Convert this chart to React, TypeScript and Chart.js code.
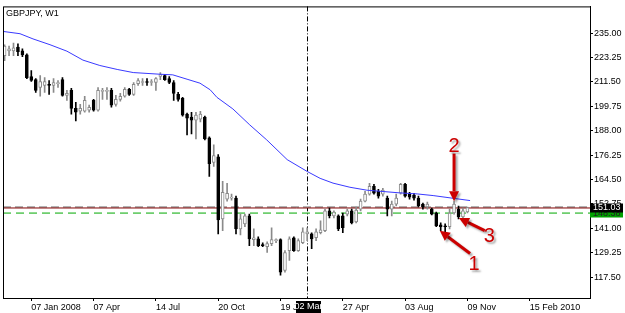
import React, { useEffect, useRef } from 'react';
import { Chart, registerables } from 'chart.js';

Chart.register(...registerables);

// Weekly GBPJPY candles (one per bar index)
const opens = [
  224.1, 226.4, 226.4, 228.3, 226.4, 224.5, 214.1, 212.6, 208.8, 209.8,
  210.3, 209.8, 210.7, 212.6, 205.0, 207.4, 198.8, 197.4, 197.4, 197.9,
  202.6, 197.9, 206.9, 206.9, 207.4, 200.7, 203.1, 204.6, 207.9, 205.5,
  210.7, 211.2, 211.7, 211.2, 211.2, 214.1, 214.5, 213.1, 211.2, 205.5,
  203.6, 196.0, 194.6, 193.1, 193.6, 194.6, 184.6, 172.7, 175.5, 145.6,
  155.1, 155.6, 155.6, 140.8, 143.2, 147.0, 135.6, 136.0, 133.2, 132.2,
  133.7, 135.1, 135.6, 120.8, 130.3, 136.5, 130.3, 134.1, 138.4, 138.4,
  136.5, 138.9, 139.9, 149.4, 147.0, 147.0, 147.0, 147.9, 149.4, 144.1,
  150.3, 154.1, 157.5, 161.3, 158.9, 157.5, 155.6, 150.3, 152.7, 157.9,
  162.2, 157.5, 157.0, 155.6, 152.7, 151.3, 150.3, 148.4, 142.7, 142.2,
  141.8, 148.4, 150.3, 146.5, 148.9,
];
const highs = [
  229.3, 228.8, 230.2, 229.8, 227.4, 225.0, 216.9, 213.1, 214.5, 213.6,
  212.2, 213.1, 212.2, 213.6, 207.4, 208.4, 201.7, 200.7, 204.6, 200.3,
  203.1, 208.8, 208.4, 208.8, 208.4, 205.0, 206.0, 208.8, 208.4, 211.2,
  213.1, 213.1, 213.1, 212.6, 213.6, 216.0, 215.0, 214.1, 212.2, 206.5,
  204.1, 196.5, 196.9, 196.9, 197.4, 195.0, 185.1, 181.2, 176.5, 163.6,
  162.7, 157.5, 156.5, 147.9, 147.9, 147.9, 140.8, 137.0, 134.1, 134.6,
  141.3, 136.0, 136.0, 130.3, 137.0, 137.0, 136.0, 141.3, 141.3, 138.9,
  140.8, 144.6, 150.3, 150.8, 149.4, 147.5, 148.4, 150.3, 150.3, 151.3,
  155.1, 158.9, 162.7, 162.2, 159.8, 160.3, 156.5, 154.1, 157.5, 162.7,
  162.7, 158.4, 157.9, 156.5, 153.2, 153.7, 150.8, 148.9, 143.7, 143.2,
  150.3, 154.1, 151.8, 150.8, 151.3,
];
const lows = [
  221.7, 224.1, 224.1, 224.1, 223.6, 213.1, 211.7, 206.5, 204.6, 206.5,
  205.5, 206.5, 208.8, 204.6, 202.6, 196.0, 192.7, 196.0, 196.9, 196.9,
  197.4, 197.4, 203.1, 203.1, 199.3, 199.8, 202.2, 204.1, 205.0, 205.0,
  209.8, 209.8, 209.8, 209.8, 207.4, 212.6, 212.2, 210.7, 202.6, 202.2,
  195.0, 186.0, 186.5, 184.1, 192.2, 183.6, 166.0, 170.8, 138.4, 139.9,
  154.1, 154.6, 138.4, 137.9, 141.8, 132.7, 132.7, 132.2, 132.2, 129.4,
  132.7, 134.1, 118.5, 119.9, 125.6, 129.9, 129.9, 133.7, 135.1, 131.3,
  135.1, 138.4, 139.4, 146.0, 146.0, 139.9, 138.9, 147.0, 143.2, 143.7,
  149.4, 153.7, 157.0, 157.5, 155.6, 156.5, 147.0, 147.0, 151.8, 157.5,
  156.0, 155.1, 154.6, 151.3, 150.3, 150.3, 147.5, 141.8, 139.9, 139.4,
  140.8, 147.9, 145.6, 145.6, 148.4,
];
const closes = [
  228.8, 227.4, 227.9, 226.0, 224.5, 213.6, 212.2, 207.4, 211.7, 211.7,
  209.8, 211.2, 211.2, 205.0, 206.0, 198.8, 196.9, 198.8, 202.6, 199.3,
  197.9, 207.4, 207.4, 207.4, 200.3, 203.1, 204.6, 207.9, 205.5, 210.3,
  212.2, 211.7, 211.2, 211.7, 213.1, 215.0, 212.6, 211.2, 206.0, 203.1,
  195.5, 194.1, 193.1, 195.5, 196.0, 184.1, 172.2, 176.0, 145.1, 158.4,
  157.9, 156.0, 140.8, 145.6, 147.0, 136.0, 136.5, 132.7, 132.7, 133.7,
  135.6, 135.6, 119.9, 129.4, 136.0, 130.3, 135.1, 139.4, 139.4, 136.0,
  139.4, 140.3, 149.4, 147.0, 148.9, 140.8, 141.3, 149.4, 143.7, 149.8,
  154.1, 157.5, 161.3, 157.9, 156.5, 159.4, 150.3, 152.7, 155.6, 162.2,
  156.5, 156.0, 155.6, 151.8, 151.3, 152.7, 147.9, 142.2, 141.8, 141.8,
  148.4, 152.7, 146.5, 149.4, 151.03,
];

// Moving average (read at bar positions)
const maIdx = [
  -0.36, 3.46, 6.38, 10.2, 14.0, 17.6, 21.4, 25.3, 28.9, 34.9, 37.8, 41.0,
  43.9, 46.2, 47.7, 51.3, 55.1, 58.9, 63.5, 68.0, 70.9, 73.8, 77.6, 81.4,
  88.8, 92.7, 96.3, 100.1, 104.6,
];
const maVals = [
  235.8, 234.7, 232.2, 229.4, 226.3, 222.0, 219.4, 217.5, 216.0, 215.2, 214.9, 212.8,
  210.9, 207.7, 204.1, 198.5, 190.8, 183.6, 174.1, 168.4, 165.1, 162.8, 160.8, 159.4,
  158.1, 157.6, 156.8, 155.7, 154.4,
];

const xTickIdx = [6, 20, 34, 48, 62, 76, 90, 104, 118];
const xTickLabels = ['07 Jan 2008', '07 Apr', '14 Jul', '20 Oct', '19 Jan', '27 Apr', '03 Aug', '09 Nov', '15 Feb 2010'];
const yTicks = [117.5, 129.25, 141.0, 152.75, 164.5, 176.25, 188.0, 199.75, 211.5, 223.25, 235.0];

const bidPrice = 151.03;
const levelPrice = 148.38;
const separatorIdx = 67.9;
const separatorLabel = '02 Mar';
const title = 'GBPJPY, W1';

const X_MIN = -0.36;
const X_MAX = 131.55;
const Y_MIN = 107.51;
const Y_MAX = 247.84;

const annotations = [
  { text: '2', tail: [101.0, 177.0], tip: [101.0, 154.1], label: [101.0, 180.6] },
  { text: '1', tail: [104.6, 128.9], tip: [97.8, 139.9], label: [105.5, 123.4] },
  { text: '3', tail: [107.9, 139.9], tip: [102.1, 146.0], label: [108.9, 137.0] },
];

const FONT = '"Liberation Sans", Arial, sans-serif';

const overlay = {
  id: 'overlay',
  beforeDatasetsDraw(chart: any) {
    const { ctx, chartArea: a, scales } = chart;
    const x = scales.x;
    const px = Math.round(x.getPixelForValue(separatorIdx)) + 0.5;
    ctx.save();
    ctx.strokeStyle = '#000';
    ctx.lineWidth = 1;
    ctx.setLineDash([5, 2, 1, 2]);
    ctx.beginPath();
    ctx.moveTo(px, a.top);
    ctx.lineTo(px, a.bottom);
    ctx.stroke();
    ctx.restore();
  },
  afterDraw(chart: any) {
    const { ctx, chartArea: a, scales } = chart;
    const x = scales.x;
    const y = scales.y;
    ctx.save();
    // frame
    ctx.strokeStyle = '#000';
    ctx.lineWidth = 1;
    ctx.strokeRect(a.left + 0.5, a.top + 0.5, a.right - a.left, a.bottom - a.top);

    // title
    ctx.fillStyle = '#000';
    ctx.font = '9px ' + FONT;
    ctx.textAlign = 'left';
    ctx.textBaseline = 'middle';
    ctx.fillText(title, a.left + 3, a.top + 7);

    // price boxes
    const gy = y.getPixelForValue(levelPrice);
    ctx.fillStyle = '#00a000';
    ctx.fillRect(a.right, Math.round(gy) - 4.5, 33, 9);
    ctx.fillStyle = '#202020';
    ctx.fillText(levelPrice.toFixed(2), a.right + 3, gy);
    const by = y.getPixelForValue(bidPrice);
    ctx.fillStyle = '#000';
    ctx.fillRect(a.right, Math.round(by) - 4.5, 33, 9);
    ctx.fillStyle = '#fff';
    ctx.fillText(bidPrice.toFixed(2), a.right + 3, by);

    // separator date box
    const sx = x.getPixelForValue(separatorIdx);
    ctx.fillStyle = '#000';
    ctx.fillRect(Math.round(sx) - 11, a.bottom + 3, 25, 12);
    ctx.fillStyle = '#fff';
    ctx.textAlign = 'center';
    ctx.fillText(separatorLabel, Math.round(sx) + 1.5, a.bottom + 9);

    // arrows
    const red = '#cc0000';
    ctx.shadowColor = 'rgba(0,0,0,0.35)';
    ctx.shadowOffsetX = 2;
    ctx.shadowOffsetY = 2;
    ctx.shadowBlur = 2;
    for (const an of annotations) {
      const x1 = x.getPixelForValue(an.tail[0]);
      const y1 = y.getPixelForValue(an.tail[1]);
      const x2 = x.getPixelForValue(an.tip[0]);
      const y2 = y.getPixelForValue(an.tip[1]);
      const ang = Math.atan2(y2 - y1, x2 - x1);
      const hl = 10;
      const hw = 5;
      const bx = x2 - hl * Math.cos(ang);
      const byy = y2 - hl * Math.sin(ang);
      ctx.strokeStyle = red;
      ctx.fillStyle = red;
      ctx.lineWidth = 3;
      ctx.beginPath();
      ctx.moveTo(x1, y1);
      ctx.lineTo(bx, byy);
      ctx.stroke();
      ctx.beginPath();
      ctx.moveTo(x2, y2);
      ctx.lineTo(bx + hw * Math.sin(ang), byy - hw * Math.cos(ang));
      ctx.lineTo(bx - hw * Math.sin(ang), byy + hw * Math.cos(ang));
      ctx.closePath();
      ctx.fill();
      ctx.font = '20px ' + FONT;
      ctx.textAlign = 'center';
      ctx.textBaseline = 'middle';
      ctx.fillText(an.text, x.getPixelForValue(an.label[0]), y.getPixelForValue(an.label[1]));
    }
    ctx.restore();
  },
};

export default function App() {
  const ref = useRef<HTMLCanvasElement | null>(null);
  useEffect(() => {
    document.body.style.margin = '0';
    const canvas = ref.current;
    if (!canvas) return;
    const up = opens.map((o, i) => closes[i] >= o);
    const chart = new Chart(canvas, {
      type: 'bar',
      data: {
        datasets: [
          {
            type: 'line',
            label: 'MA',
            data: maIdx.map((v, i) => ({ x: v, y: maVals[i] })),
            borderColor: '#3a3aff',
            borderWidth: 1,
            pointRadius: 0,
            tension: 0,
            order: 0,
          } as any,
          {
            type: 'bar',
            label: 'body',
            data: opens.map((o, i) => ({ x: i, y: [o, closes[i]] })),
            backgroundColor: up.map((u) => (u ? '#ffffff' : '#000000')),
            borderColor: up.map((u) => (u ? '#8a8a8a' : '#000000')),
            borderWidth: 1,
            borderSkipped: false,
            barThickness: 3,
            grouped: false,
            minBarLength: 1,
            order: 1,
          } as any,
          {
            type: 'bar',
            label: 'wick',
            data: highs.map((h, i) => ({ x: i, y: [lows[i], h] })),
            backgroundColor: up.map((u) => (u ? '#8a8a8a' : '#000000')),
            borderWidth: 0,
            barThickness: 1,
            grouped: false,
            order: 2,
          } as any,
          {
            type: 'line',
            label: 'bid',
            data: [{ x: X_MIN, y: bidPrice + 0.3 }, { x: X_MAX, y: bidPrice + 0.3 }],
            borderColor: '#b4b4b4',
            borderWidth: 2,
            borderDash: [8, 4],
            pointRadius: 0,
            order: 4,
          } as any,
          {
            type: 'line',
            label: 'line',
            data: [{ x: X_MIN, y: bidPrice - 0.2 }, { x: X_MAX, y: bidPrice - 0.2 }],
            borderColor: '#800000',
            borderWidth: 1,
            pointRadius: 0,
            order: 3,
          } as any,
          {
            type: 'line',
            label: 'level',
            data: [{ x: X_MIN, y: levelPrice }, { x: X_MAX, y: levelPrice }],
            borderColor: '#00a800',
            borderWidth: 1,
            borderDash: [8, 5],
            pointRadius: 0,
            order: 5,
          } as any,
        ],
      },
      options: {
        animation: false,
        responsive: false,
        maintainAspectRatio: false,
        layout: { padding: { top: 3, left: 3, right: 0, bottom: 0 } },
        plugins: { legend: { display: false }, tooltip: { enabled: false } },
        scales: {
          x: {
            type: 'linear',
            min: X_MIN,
            max: X_MAX,
            offset: false,
            afterBuildTicks: (s: any) => {
              s.ticks = xTickIdx.map((v) => ({ value: v }));
            },
            afterFit: (s: any) => {
              s.height = 15;
            },
            grid: { drawOnChartArea: false, offset: false, tickLength: 3, color: '#000' },
            border: { display: true, color: '#000' },
            ticks: {
              align: 'start',
              autoSkip: false,
              maxRotation: 0,
              padding: 1,
              color: '#000',
              font: { family: FONT, size: 9 },
              callback: (v: any) => {
                const k = xTickIdx.indexOf(Number(v));
                return k >= 0 ? xTickLabels[k] : '';
              },
            },
          },
          y: {
            type: 'linear',
            position: 'right',
            min: Y_MIN,
            max: Y_MAX,
            afterBuildTicks: (s: any) => {
              s.ticks = yTicks.map((v) => ({ value: v }));
            },
            afterFit: (s: any) => {
              s.width = 35;
            },
            grid: { drawOnChartArea: false, tickLength: 3, color: '#000' },
            border: { display: true, color: '#000' },
            ticks: {
              padding: 1,
              color: '#000',
              font: { family: FONT, size: 9 },
              callback: (v: any) => Number(v).toFixed(2),
            },
          },
        },
      } as any,
      plugins: [overlay],
    });
    return () => chart.destroy();
  }, []);
  return (
    <div style={{ width: 625, height: 313, background: '#fff' }}>
      <canvas ref={ref} width={625} height={313} style={{ display: 'block' }} />
    </div>
  );
}
